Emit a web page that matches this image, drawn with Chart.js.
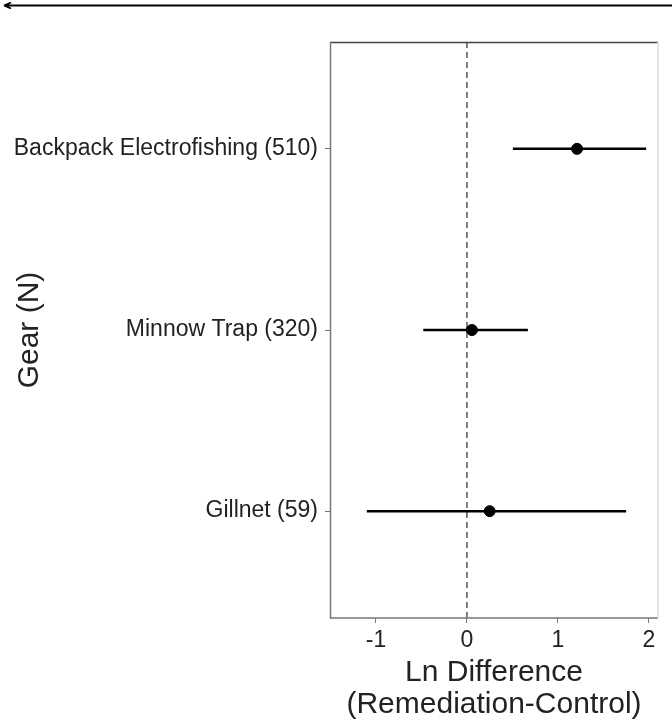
<!DOCTYPE html>
<html>
<head>
<meta charset="utf-8">
<script src="https://cdn.jsdelivr.net/npm/chart.js@4"></script>
<style>
  html, body { margin: 0; padding: 0; background: #fff; }
  #wrap { width: 672px; height: 726px; position: relative; }
</style>
</head>
<body>
<div id="wrap"><canvas id="myChart"></canvas></div>
<script>
let gears = ['Backpack Electrofishing (510)', 'Minnow Trap (320)', 'Gillnet (59)'];
let estimates = [1.21, 0.055, 0.25];
let lower = [0.505, -0.48, -1.10];
let upper = [1.97, 0.67, 1.75];
let xTicks = [-1, 0, 1, 2];

const fontFam = '"Liberation Sans", Arial, Helvetica, sans-serif';

// one line per gear for the interval, plus the points
let datasets = [];
gears.forEach(function (g, i) {
  datasets.push({
    type: 'line',
    data: [{ x: lower[i], y: i + 1 }, { x: upper[i], y: i + 1 }],
    borderColor: '#000',
    borderWidth: 2.5,
    pointRadius: 0,
    order: 2
  });
});
datasets.push({
  type: 'line',
  data: [{ x: 0, y: 0.41 }, { x: 0, y: 3.59 }],
  borderColor: '#555',
  borderWidth: 1.5,
  borderDash: [6, 4],
  pointRadius: 0,
  order: 3
});
datasets.push({
  type: 'scatter',
  data: estimates.map(function (v, i) { return { x: v, y: i + 1 }; }),
  backgroundColor: '#000',
  borderColor: '#000',
  pointRadius: 5.5,
  order: 1
});

const frame = {
  id: 'frame',
  afterDraw(chart) {
    const ctx = chart.ctx;
    const a = chart.chartArea;
    ctx.save();
    ctx.lineWidth = 1.5;
    ctx.strokeStyle = '#444';
    ctx.beginPath();
    ctx.moveTo(a.left, a.top + 0.5);
    ctx.lineTo(a.right, a.top + 0.5);
    ctx.stroke();
    ctx.strokeStyle = '#777';
    ctx.beginPath();
    ctx.moveTo(a.left + 0.5, a.top);
    ctx.lineTo(a.left + 0.5, a.bottom);
    ctx.lineTo(a.right, a.bottom);
    ctx.stroke();
    ctx.strokeStyle = '#ddd';
    ctx.beginPath();
    ctx.moveTo(a.right, a.top);
    ctx.lineTo(a.right, a.bottom);
    ctx.stroke();
    // stray arrow line across the top of the image
    ctx.strokeStyle = '#000';
    ctx.lineWidth = 1.8;
    ctx.beginPath();
    ctx.moveTo(4, 5.5);
    ctx.lineTo(672, 5.5);
    ctx.moveTo(4, 5.5);
    ctx.lineTo(11, 2.5);
    ctx.moveTo(4, 5.5);
    ctx.lineTo(11, 8.5);
    ctx.stroke();
    ctx.restore();
  }
};

const config = {
  data: { datasets: datasets },
  options: {
    responsive: true,
    maintainAspectRatio: false,
    animation: false,
    layout: { padding: { top: 42, right: 14, bottom: 0, left: 0 } },
    plugins: { legend: { display: false }, tooltip: { enabled: false } },
    scales: {
      x: {
        type: 'linear',
        min: -1.505,
        max: 2.10,
        afterBuildTicks: function (scale) {
          scale.ticks = xTicks.map(function (v) { return { value: v }; });
        },
        afterFit: function (scale) { scale.height = 108; },
        grid: { display: true, drawOnChartArea: false, drawTicks: true, tickLength: 5, color: '#777' },
        border: { display: false },
        ticks: { color: '#222', padding: 4, font: { family: fontFam, size: 23 } },
        title: {
          display: true,
          text: ['Ln Difference', '(Remediation-Control)'],
          color: '#222',
          font: { family: fontFam, size: 30, lineHeight: 1.07 },
          padding: { top: 0, bottom: 5 }
        }
      },
      y: {
        type: 'linear',
        reverse: true,
        min: 0.41,
        max: 3.59,
        afterBuildTicks: function (scale) {
          scale.ticks = gears.map(function (g, i) { return { value: i + 1 }; });
        },
        afterFit: function (scale) { scale.width = 330; },
        grid: { display: true, drawOnChartArea: false, drawTicks: true, tickLength: 5, color: '#777' },
        border: { display: false },
        ticks: {
          color: '#222',
          padding: 7,
          font: { family: fontFam, size: 23 },
          callback: function (v) { return gears[v - 1]; }
        },
        title: {
          display: true,
          text: 'Gear (N)',
          color: '#222',
          font: { family: fontFam, size: 30, lineHeight: 1.2 },
          padding: { top: 12, bottom: 0 }
        }
      }
    }
  },
  plugins: [frame]
};

const ctx = document.getElementById('myChart').getContext('2d');
new Chart(ctx, config);
</script>
</body>
</html>
